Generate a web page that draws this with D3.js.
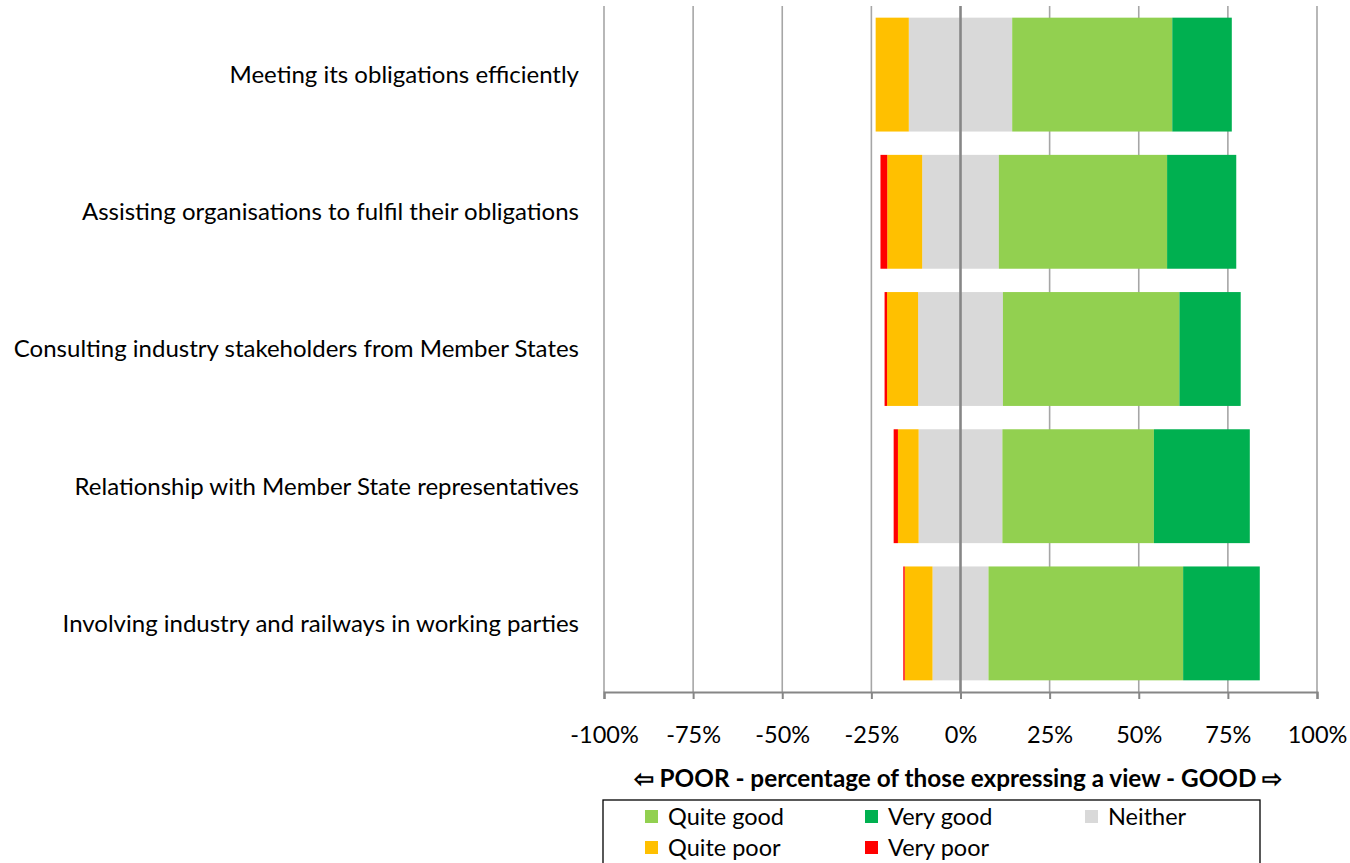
<!DOCTYPE html>
<html>
<head>
<meta charset="utf-8">
<script src="https://cdn.jsdelivr.net/npm/d3@7"></script>
<style>
  body { margin: 0; background: #fff; }
  svg { display: block; font-family: Lato, "Open Sans", sans-serif; }
</style>
</head>
<body>
<svg id="chart" width="1350" height="863"></svg>
<script>
  // categories, top to bottom
  const categories = [
    "Meeting its obligations efficiently",
    "Assisting organisations to fulfil their obligations",
    "Consulting industry stakeholders from Member States",
    "Relationship with Member State representatives",
    "Involving industry and railways in working parties"
  ];

  // percentages of those expressing a view
  const veryPoor  = [0.0, 1.9, 0.7, 1.2, 0.4];
  const quitePoor = [9.3, 9.8, 8.7, 5.8, 7.8];
  const neither   = [29.0, 21.5, 23.8, 23.5, 15.7];
  const quiteGood = [44.9, 47.2, 49.5, 42.5, 54.6];
  const veryGood  = [16.7, 19.4, 17.2, 26.9, 21.5];

  const tickValues = [-100, -75, -50, -25, 0, 25, 50, 75, 100];

  const colors = {
    "Quite good": "#92d050",
    "Very good": "#00b050",
    "Neither": "#d9d9d9",
    "Quite poor": "#ffc000",
    "Very poor": "#ff0000"
  };

  const svg = d3.select("#chart");
  const plot = { left: 604, right: 1317, top: 6, bottom: 692 };

  const x = d3.scaleLinear().domain([-100, 100]).range([plot.left, plot.right]);
  const y = d3.scaleBand().domain(categories)
              .range([plot.top, plot.bottom])
              .paddingInner(0.17).paddingOuter(0.085);

  // gridlines
  svg.append("g")
     .selectAll("line")
     .data(tickValues.filter(d => d !== 0))
     .enter()
     .append("line")
     .attr("x1", d => x(d)).attr("x2", d => x(d))
     .attr("y1", plot.top).attr("y2", plot.bottom)
     .attr("stroke", "#a6a6a6")
     .attr("stroke-width", 1.6);

  // build segments: each diverging from the middle of "neither"
  const segs = [];
  categories.forEach((c, i) => {
    const half = neither[i] / 2;
    segs.push({ cat: c, key: "Neither", x0: -half, x1: half });
    segs.push({ cat: c, key: "Quite poor", x0: -half - quitePoor[i], x1: -half });
    segs.push({ cat: c, key: "Very poor", x0: -half - quitePoor[i] - veryPoor[i], x1: -half - quitePoor[i] });
    segs.push({ cat: c, key: "Quite good", x0: half, x1: half + quiteGood[i] });
    segs.push({ cat: c, key: "Very good", x0: half + quiteGood[i], x1: half + quiteGood[i] + veryGood[i] });
  });

  svg.append("g")
     .selectAll("rect")
     .data(segs.filter(d => d.x1 - d.x0 > 0))
     .enter()
     .append("rect")
     .attr("x", d => x(d.x0))
     .attr("width", d => x(d.x1) - x(d.x0))
     .attr("y", d => y(d.cat))
     .attr("height", y.bandwidth())
     .attr("fill", d => colors[d.key]);

  // vertical axis at 0
  svg.append("line")
     .attr("x1", x(0)).attr("x2", x(0))
     .attr("y1", plot.top).attr("y2", plot.bottom)
     .attr("stroke", "#868686")
     .attr("stroke-width", 2.6);

  // bottom axis
  const xAxis = d3.axisBottom(x)
                  .tickValues(tickValues)
                  .tickSize(7)
                  .tickFormat(d => d + "%");
  const gx = svg.append("g")
                .attr("transform", `translate(0,${plot.bottom})`)
                .call(xAxis);
  gx.select(".domain").attr("stroke", "#868686").attr("stroke-width", 2.2);
  gx.selectAll(".tick line").attr("stroke", "#868686").attr("stroke-width", 2);
  gx.selectAll(".tick text")
    .attr("y", 51)
    .attr("dy", 0)
    .attr("font-size", 23.5)
    .attr("fill", "#000")
    .attr("font-family", "Lato, sans-serif");

  // category labels
  svg.append("g")
     .selectAll("text")
     .data(categories)
     .enter()
     .append("text")
     .attr("x", 579)
     .attr("y", d => y(d) + y.bandwidth() / 2)
     .attr("dy", "0.35em")
     .attr("text-anchor", "end")
     .attr("font-size", 24)
     .attr("fill", "#000")
     .text(d => d);

  // axis title
  svg.append("text")
     .attr("x", 958)
     .attr("y", 787)
     .attr("text-anchor", "middle")
     .attr("font-size", 24.3)
     .attr("font-weight", "bold")
     .attr("fill", "#000")
     .text("\u21e6 POOR - percentage of those expressing a view - GOOD \u21e8");

  // legend
  const legendItems = ["Quite good", "Very good", "Neither", "Quite poor", "Very poor"];
  const legend = svg.append("g").attr("class", "legend");
  legend.append("rect")
        .attr("x", 603).attr("y", 800)
        .attr("width", 657).attr("height", 70)
        .attr("fill", "#fff")
        .attr("stroke", "#000")
        .attr("stroke-width", 1.3);
  legendItems.forEach((key, i) => {
    const row = legend.append("g")
                      .attr("transform", `translate(${645 + (i % 3) * 220}, ${810 + Math.floor(i / 3) * 31})`);
    row.append("rect")
       .attr("width", 13)
       .attr("height", 13)
       .attr("fill", colors[key]);
    row.append("text")
        .attr("x", 23)
        .attr("y", 7)
        .attr("dy", "0.35em")
        .attr("font-size", 23.5)
        .attr("fill", "#000")
        .text(key);
  });
</script>
</body>
</html>
